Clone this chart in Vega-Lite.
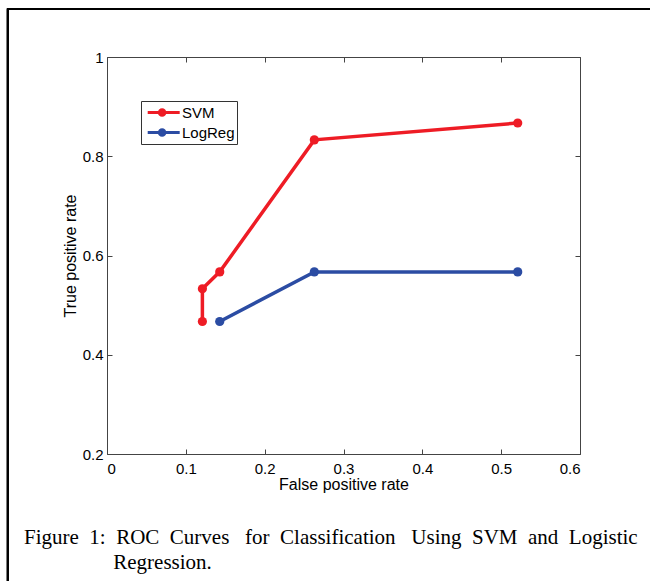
{
  "$schema": "https://vega.github.io/schema/vega-lite/v6.json",
  "autosize": "none",
  "width": 473,
  "height": 397,
  "padding": {"left": 107, "top": 57, "right": 70, "bottom": 127},
  "background": "white",
  "data": {
    "values": [
      {"model": "SVM", "fpr": 0.121, "tpr": 0.467},
      {"model": "SVM", "fpr": 0.121, "tpr": 0.533},
      {"model": "SVM", "fpr": 0.143, "tpr": 0.567},
      {"model": "SVM", "fpr": 0.263, "tpr": 0.833},
      {"model": "SVM", "fpr": 0.521, "tpr": 0.867},
      {"model": "LogReg", "fpr": 0.143, "tpr": 0.467},
      {"model": "LogReg", "fpr": 0.263, "tpr": 0.567},
      {"model": "LogReg", "fpr": 0.521, "tpr": 0.567}
    ]
  },
  "title": {
    "text": "Figure\u00a0\u00a01:\u00a0\u00a0ROC\u00a0\u00a0Curves\u00a0\u00a0\u00a0for\u00a0\u00a0Classification\u00a0\u00a0\u00a0Using\u00a0\u00a0SVM\u00a0\u00a0and\u00a0\u00a0Logistic",
    "subtitle": "\u200b\u00a0\u00a0\u00a0\u00a0\u00a0\u00a0\u00a0\u00a0\u00a0\u00a0\u00a0\u00a0\u00a0\u00a0\u00a0\u00a0\u00a0Regression.",
    "orient": "bottom",
    "anchor": "start",
    "frame": "group",
    "dx": -83,
    "offset": -56,
    "font": "Liberation Serif",
    "fontSize": 21,
    "fontWeight": "normal",
    "color": "black",
    "subtitleFont": "Liberation Serif",
    "subtitleFontSize": 21,
    "subtitleColor": "black",
    "subtitlePadding": 4
  },
  "config": {
    "view": {"stroke": null},
    "axis": {
      "grid": false,
      "domainColor": "#444",
      "tickColor": "#444",
      "tickSize": -5,
      "labelFont": "Liberation Sans",
      "labelFontSize": 15,
      "labelColor": "black",
      "titleFont": "Liberation Sans",
      "titleFontSize": 16,
      "titleFontWeight": "normal",
      "titleColor": "black"
    }
  },
  "resolve": {"axis": {"x": "independent", "y": "independent"}},
  "layer": [
    {
      "mark": {"type": "rect", "fill": null, "stroke": "black", "strokeWidth": 1.5, "clip": false},
      "encoding": {
        "x": {"datum": -0.126, "type": "quantitative", "scale": {"domain": [0, 0.6]}, "axis": null},
        "x2": {"datum": 0.76},
        "y": {"datum": 1.096, "type": "quantitative", "scale": {"domain": [0.2, 1]}, "axis": null},
        "y2": {"datum": -0.0575}
      }
    },
    {
      "mark": {"type": "line", "strokeWidth": 3.5, "point": {"filled": true, "size": 85, "opacity": 1}},
      "encoding": {
        "x": {
          "field": "fpr", "type": "quantitative",
          "scale": {"domain": [0, 0.6]},
          "axis": {"values": [0, 0.1, 0.2, 0.3, 0.4, 0.5, 0.6], "format": "~g", "title": "False positive rate", "labelPadding": 12, "titlePadding": 0}
        },
        "y": {
          "field": "tpr", "type": "quantitative",
          "scale": {"domain": [0.2, 1]},
          "axis": {"values": [0.2, 0.4, 0.6, 0.8, 1], "format": "~g", "title": "True positive rate", "labelPadding": 9, "titlePadding": 4}
        },
        "color": {
          "field": "model", "type": "nominal",
          "scale": {"domain": ["SVM", "LogReg"], "range": ["#ee1c25", "#2b4ca3"]},
          "legend": {
            "title": null,
            "orient": "none",
            "legendX": 34,
            "legendY": 44,
            "strokeColor": "#333",
            "fillColor": "white",
            "padding": 2,
            "labelFont": "Liberation Sans",
            "labelFontSize": 15,
            "labelColor": "black",
            "symbolType": "M-0.6,0H3.4M0.85,0A0.35,0.35 0 1,0 1.55,0A0.35,0.35 0 1,0 0.85,0M1.08,0A0.12,0.12 0 1,0 1.32,0A0.12,0.12 0 1,0 1.08,0",
            "symbolSize": 256,
            "symbolStrokeWidth": 3,
            "labelOffset": 20,
            "rowPadding": 1
          }
        }
      }
    },
    {
      "mark": {"type": "point", "opacity": 0},
      "encoding": {
        "x": {
          "field": "fpr", "type": "quantitative",
          "axis": {"orient": "top", "values": [0, 0.1, 0.2, 0.3, 0.4, 0.5, 0.6], "labels": false, "title": null}
        },
        "y": {
          "field": "tpr", "type": "quantitative",
          "axis": {"orient": "right", "values": [0.2, 0.4, 0.6, 0.8, 1], "labels": false, "title": null}
        }
      }
    }
  ]
}
